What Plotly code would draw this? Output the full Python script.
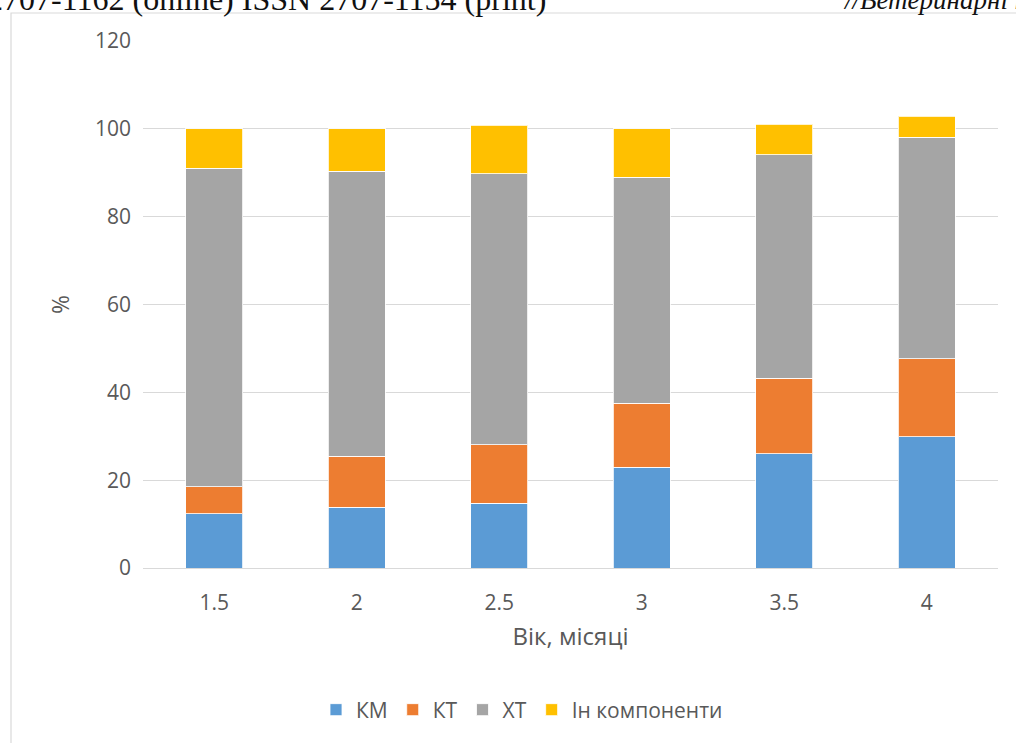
import plotly.graph_objects as go

# Age groups (months) and composition shares, %
ages = ["1.5", "2", "2.5", "3", "3.5", "4"]
km = [12.4, 13.8, 14.7, 22.9, 26.0, 29.9]
kt = [6.1, 11.6, 13.4, 14.6, 17.2, 17.8]
xt = [72.5, 64.9, 61.7, 51.5, 50.9, 50.4]
other = [9.0, 9.7, 11.0, 11.0, 7.0, 4.8]

series_names = ["КМ", "КТ", "ХТ", "Ін компоненти"]
series_colors = ["#5B9BD5", "#ED7D31", "#A5A5A5", "#FFC000"]
y_ticks = [0, 20, 40, 60, 80, 100, 120]

W, H = 1016, 743
L, R, T, B = 143, 18, 41, 175
PW, PH = W - L - R, H - T - B


def px_x(px):
    return (px - L) / PW


def px_y(py):
    return (H - B - py) / PH


fig = go.Figure()
for name, vals, col in zip(series_names, [km, kt, xt, other], series_colors):
    fig.add_trace(go.Bar(
        x=ages, y=vals, name=name,
        marker=dict(color=col, line=dict(color="rgba(255,255,255,0.8)", width=1)),
    ))

font_family = "Open Sans, Liberation Sans, sans-serif"
tick_color = "#595959"

fig.update_layout(
    width=W, height=H,
    margin=dict(l=L, r=R, t=T, b=B, pad=0),
    barmode="stack",
    bargap=0.6,
    plot_bgcolor="white",
    paper_bgcolor="white",
    font=dict(family=font_family, color=tick_color, size=21),
    showlegend=True,
    legend=dict(
        orientation="h", x=px_x(522), xanchor="center", y=px_y(710), yanchor="middle",
        font=dict(size=21, color=tick_color), itemwidth=30, traceorder="normal",
        itemclick=False,
    ),
    xaxis=dict(
        type="category",
        showgrid=False,
        showline=True, linecolor="#d9d9d9", linewidth=1,
        ticks="",
        tickfont=dict(size=21, color=tick_color),
        ticklabelstandoff=16,
        title=dict(text="Вік, місяці", font=dict(size=24, color=tick_color), standoff=12),
    ),
    yaxis=dict(
        range=[0, 120],
        tickvals=y_ticks,
        showgrid=True, gridcolor="#d9d9d9", gridwidth=1,
        zeroline=False,
        showline=False,
        ticks="",
        tickfont=dict(size=21, color=tick_color),
        ticklabelstandoff=11,
        title=dict(text="%", font=dict(size=23, color=tick_color), standoff=18),
    ),
)

# Chart frame
fig.add_shape(
    type="rect", xref="paper", yref="paper",
    x0=px_x(11), x1=px_x(W + 20), y0=px_y(H + 20), y1=px_y(13),
    line=dict(color="#d9d9d9", width=1.2), fillcolor="rgba(0,0,0,0)", layer="below",
)

# Running page header above the chart
fig.add_annotation(
    xref="paper", yref="paper", x=px_x(548), y=px_y(19),
    xanchor="right", yanchor="bottom", showarrow=False,
    text="2707-1162 (online) ISSN 2707-1154 (print)",
    font=dict(family="Liberation Serif, Times New Roman, serif", size=32, color="#111111"),
)
fig.add_annotation(
    xref="paper", yref="paper", x=px_x(841), y=px_y(17),
    xanchor="left", yanchor="bottom", showarrow=False,
    text="<i>//Ветеринарні науки</i>",
    font=dict(family="Liberation Serif, Times New Roman, serif", size=27, color="#111111"),
)

fig.write_html("out.html")
